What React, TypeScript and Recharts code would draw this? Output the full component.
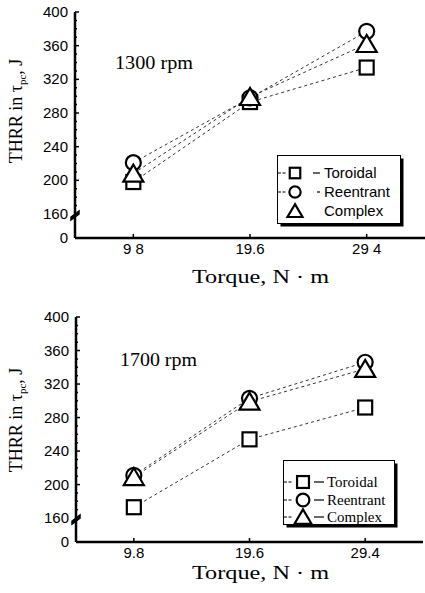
import { Legend, Line, LineChart, XAxis, YAxis } from "recharts";

// torque levels (N·m) and the tick text as printed on each panel
const torque = [9.8, 19.6, 29.4];
const tickLabels1300 = ["9 8", "19.6", "29 4"];
const tickLabels1700 = ["9.8", "19.6", "29.4"];

// THRR values, J
const toroidal1300 = [198, 293, 334];
const reentrant1300 = [221, 298, 377];
const complex1300 = [208, 299, 362];

const toroidal1700 = [173, 254, 292];
const reentrant1700 = [211, 303, 346];
const complex1700 = [209, 299, 338];

const seriesNames = ["Toroidal", "Reentrant", "Complex"];
const seriesShapes = ["square", "circle", "triangle"];
const yLabels = [0, 160, 200, 240, 280, 320, 360, 400];

// the axis is broken between 0 and 160, the "0" tick sits at this value
const Y_BREAK = 131.5;
const X_DOMAIN = [4.9, 34.3];
const SERIF = "Liberation Serif";
const SANS = "Liberation Sans";

const yTicks = [Y_BREAK];
for (let v = 160; v <= 400; v += 10) yTicks.push(v);

const toRows = (a: number[], b: number[], c: number[]) =>
	torque.map((t, i) => ({ torque: t, Toroidal: a[i], Reentrant: b[i], Complex: c[i] }));

function Marker({ shape, cx, cy, k = 1 }: any) {
	if (cx == null || cy == null) return null;
	const sw = 2.2;
	if (shape === "square") {
		const h = 7 * k;
		return <rect x={cx - h} y={cy - h} width={2 * h} height={2 * h} fill="#fff" stroke="#000" strokeWidth={sw} />;
	}
	if (shape === "circle") {
		return <circle cx={cx} cy={cy} r={7.5 * k} fill="#fff" stroke="#000" strokeWidth={sw} />;
	}
	const w = 10 * k;
	return (
		<polygon
			points={`${cx},${cy - 9 * k} ${cx - w},${cy + 8 * k} ${cx + w},${cy + 8 * k}`}
			fill="#fff"
			stroke="#000"
			strokeWidth={sw}
		/>
	);
}

function YTick(props: any) {
	const { x, y, payload } = props;
	const v = payload.value;
	const ax = x + 7; // tickSize 0, tickMargin 7
	const labelled = v === Y_BREAK || yLabels.includes(v);
	return (
		<g>
			<line x1={ax} x2={ax + (labelled ? 4 : 2)} y1={y} y2={y} stroke="#000" strokeWidth={1.5} />
			{labelled && (
				<text x={x} y={y + 5} textAnchor="end" style={{ fontFamily: SANS, fontSize: 15 }} fill="#000">
					{v === Y_BREAK ? "0" : v}
				</text>
			)}
			{v === 160 && (
				<polygon
					points={`${ax - 4},${y + 6} ${ax + 4},${y} ${ax + 4},${y - 3} ${ax - 4},${y + 3}`}
					fill="#000"
					stroke="#000"
					strokeWidth={1.5}
				/>
			)}
		</g>
	);
}

function XTick(props: any) {
	const { x, y, payload, index, labels } = props;
	const ay = y - 5; // tickMargin 5
	return (
		<g>
			<line x1={x} x2={x} y1={ay} y2={ay - 4} stroke="#000" strokeWidth={1.5} />
			<text x={x} y={y + 11} textAnchor="middle" style={{ fontFamily: SANS, fontSize: 15 }} fill="#000">
				{labels[index] ?? payload.value}
			</text>
		</g>
	);
}

function LegendBox({ serif }: { serif: boolean }) {
	const W = serif ? 111 : 123;
	const H = serif ? 64 : 68;
	const rowY = serif ? [22, 40, 57] : [18, 37, 56];
	const iconX = serif ? 20 : 18;
	const textX = serif ? 44 : 47;
	return (
		<svg width={W + 4} height={H + 4} style={{ display: "block" }}>
			<rect x={3.5} y={3.5} width={W} height={H} fill="#000" />
			<rect x={0.5} y={0.5} width={W} height={H} fill="#fff" stroke="#000" strokeWidth={1} />
			{seriesNames.map((name, i) => {
				const y = rowY[i];
				const lead = serif || i < 2;
				const trail = serif || i < 2;
				return (
					<g key={name}>
						{lead && (
							<line x1={1} x2={serif ? 10 : 9} y1={y} y2={y} stroke="#000" strokeWidth={1} strokeDasharray="3 1.5" />
						)}
						<Marker shape={seriesShapes[i]} cx={iconX} cy={y} k={serif ? 0.85 : 0.75} />
						{trail && (
							<line
								x1={serif ? 31 : i === 0 ? 36 : 40}
								x2={serif ? 41 : 43}
								y1={y}
								y2={y}
								stroke="#000"
								strokeWidth={1.2}
							/>
						)}
						<text x={textX} y={y + 5} style={{ fontFamily: serif ? SERIF : SANS, fontSize: 15 }} fill="#000">
							{name}
						</text>
					</g>
				);
			})}
		</svg>
	);
}

function Panel(cfg: any) {
	const axisStyle = { stroke: "#000", strokeWidth: 2.5 };
	return (
		<LineChart width={425} height={cfg.height} data={cfg.rows} margin={cfg.margin}>
			<XAxis
				xAxisId="top"
				orientation="top"
				dataKey="torque"
				type="number"
				domain={X_DOMAIN}
				height={0}
				tick={false}
				tickLine={false}
				axisLine={axisStyle}
			/>
			<XAxis
				dataKey="torque"
				type="number"
				domain={X_DOMAIN}
				ticks={torque}
				interval={0}
				height={30}
				tickSize={0}
				tickMargin={5}
				axisLine={axisStyle}
				tick={<XTick labels={cfg.tickLabels} />}
				label={() => (
					<text
						x={cfg.xTitle.x}
						y={cfg.xTitle.y}
						style={{ fontFamily: SERIF, fontSize: 18 }}
						textLength={137}
						lengthAdjust="spacingAndGlyphs"
						fill="#000"
					>
						Torque, N ·  m
					</text>
				)}
			/>
			<YAxis
				type="number"
				domain={[Y_BREAK, 400]}
				ticks={yTicks}
				interval={0}
				width={60}
				tickSize={0}
				tickMargin={7}
				axisLine={axisStyle}
				tick={<YTick />}
				label={() => (
					<g>
						<text
							x={cfg.yTitle.x}
							y={cfg.yTitle.y}
							transform={`rotate(-90 ${cfg.yTitle.x} ${cfg.yTitle.y})`}
							textAnchor="middle"
							style={{ fontFamily: SERIF, fontSize: 18 }}
							fill="#000"
						>
							THRR in τ
							<tspan fontSize={11} dy={4}>
								pc
							</tspan>
							<tspan dy={-4}>, J</tspan>
						</text>
						<text
							x={cfg.rpm.x}
							y={cfg.rpm.y}
							style={{ fontFamily: SERIF, fontSize: 19 }}
							textLength={cfg.rpm.len}
							lengthAdjust="spacingAndGlyphs"
							fill="#000"
						>
							{cfg.rpm.text}
						</text>
					</g>
				)}
			/>
			{cfg.rightBorder && (
				<YAxis
					yAxisId="right"
					orientation="right"
					type="number"
					domain={[Y_BREAK, 400]}
					width={0}
					tick={false}
					tickLine={false}
					axisLine={{ stroke: "#000", strokeWidth: 1.5 }}
				/>
			)}
			{seriesNames.map((name, i) => (
				<Line
					key={name}
					dataKey={name}
					stroke="#333"
					strokeWidth={1}
					strokeDasharray="3 3"
					isAnimationActive={false}
					dot={(p: any) => <Marker key={`${name}-${p.index}`} shape={seriesShapes[i]} cx={p.cx} cy={p.cy} />}
					activeDot={false}
				/>
			))}
			<Legend
				layout="vertical"
				align="center"
				verticalAlign="middle"
				wrapperStyle={{ left: cfg.legend.left, top: cfg.legend.top, width: 130, height: 75 }}
				content={() => <LegendBox serif={cfg.legend.serif} />}
			/>
		</LineChart>
	);
}

export default function App() {
	return (
		<div style={{ position: "absolute", left: 0, top: 0, width: 425, height: 593, background: "#fff" }}>
			<div style={{ position: "absolute", left: 0, top: 0 }}>
				<Panel
					height={300}
					rows={toRows(toroidal1300, reentrant1300, complex1300)}
					tickLabels={tickLabels1300}
					margin={{ top: 12, right: 0, bottom: 32, left: 15 }}
					rpm={{ text: "1300 rpm", x: 115, y: 69, len: 78 }}
					xTitle={{ x: 192, y: 283 }}
					yTitle={{ x: 22, y: 111, len: 140 }}
					legend={{ left: 277, top: 155, serif: false }}
					rightBorder={false}
				/>
			</div>
			<div style={{ position: "absolute", left: 0, top: 300 }}>
				<Panel
					height={293}
					rows={toRows(toroidal1700, reentrant1700, complex1700)}
					tickLabels={tickLabels1700}
					margin={{ top: 17, right: 2, bottom: 21, left: 16 }}
					rpm={{ text: "1700 rpm", x: 120, y: 66, len: 77 }}
					xTitle={{ x: 192, y: 279 }}
					yTitle={{ x: 22, y: 120, len: 125 }}
					legend={{ left: 283, top: 160, serif: true }}
					rightBorder={true}
				/>
			</div>
		</div>
	);
}
